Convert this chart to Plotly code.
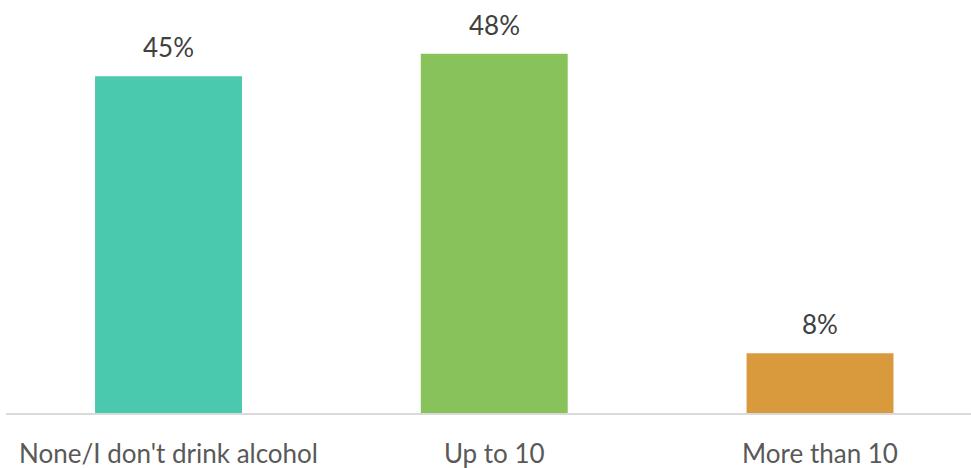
import plotly.graph_objects as go

categories = ["None/I don't drink alcohol", "Up to 10", "More than 10"]
values = [45, 48, 8]
colors = ["#4BC9AE", "#88C25A", "#D99A3E"]

FONT = "Lato"

fig = go.Figure()
fig.add_trace(go.Bar(
    x=list(range(len(categories))),
    y=values,
    width=0.451,
    marker=dict(color=colors, line=dict(width=0)),
    hoverinfo="skip",
))

# value labels above each bar
for i, v in enumerate(values):
    fig.add_annotation(
        x=i, y=v, text=f"{v}%", showarrow=False,
        xanchor="center", yanchor="bottom", yshift=11,
        font=dict(family=FONT, size=26, color="#404040"),
    )

fig.update_layout(
    width=971, height=468,
    margin=dict(l=6, r=0, t=0, b=55),
    paper_bgcolor="white", plot_bgcolor="white",
    showlegend=False,
)
fig.update_xaxes(
    range=[-0.4989, 2.4635],
    tickvals=list(range(len(categories))),
    ticktext=categories,
    tickfont=dict(family=FONT, size=26, color="#595959"),
    showline=True, linecolor="#D9D9D9", linewidth=2,
    showgrid=False, zeroline=False, ticks="",
    ticklabelstandoff=17,
)
fig.update_yaxes(range=[0, 55.2], visible=False, showgrid=False, zeroline=False)

fig.write_html("out.html")
